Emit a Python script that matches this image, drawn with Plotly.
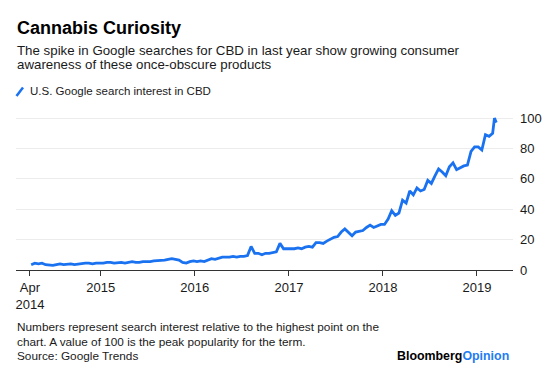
import plotly.graph_objects as go
import pandas as pd

# ---- data (bi-weekly readings of Google search interest in "CBD", U.S.) ----
start_date = "2014-04-06"
values_2014 = [3.5, 4.5, 4, 4.5, 3.5, 3, 3, 3.5, 4, 3.5, 4, 4, 3.5, 4, 4, 4.5, 4.5, 4, 4.5, 4.5]
values_2015 = [4.5, 5, 5, 4.5, 5, 5, 4.5, 5, 5.5, 5, 5, 5.5, 5.5, 5.5, 6, 6, 6, 6.5, 7, 7.5,
               7, 6.5, 5, 4.5, 5.5, 6]
values_2016 = [5.5, 6, 5.5, 6.5, 7.5, 7, 8, 8.5, 8.5, 8.5, 9, 8.5, 9, 9, 9.5, 15.5, 11, 11, 10,
               11, 11, 11.5, 12, 17.5, 14, 14]
values_2017 = [14, 14, 14.5, 14, 15, 15.5, 15, 18, 18, 17.5, 19, 20.5, 21.5, 22, 25, 27, 24.5,
               22.5, 25, 25.5, 26, 28, 29.5, 28, 29, 30]
values_2018 = [30, 33.5, 39, 36, 37.5, 46, 44, 52, 49.5, 54, 52, 53, 59, 57, 62, 66.5, 64.5, 62,
               68, 70.5, 66, 67.5, 68.5, 69, 78, 81]
values_2019 = [81, 79, 89, 88, 90]
final_dates = ["2019-03-10", "2019-03-17"]
final_values = [100, 97]

tick_dates = ["2014-04-01", "2015-01-01", "2016-01-01", "2017-01-01", "2018-01-01", "2019-01-01"]
tick_labels = ["Apr<br>2014", "2015", "2016", "2017", "2018", "2019"]
y_ticks = [0, 20, 40, 60, 80, 100]

biweekly = values_2014 + values_2015 + values_2016 + values_2017 + values_2018 + values_2019
dates = list(pd.date_range(start_date, periods=len(biweekly), freq="14D")) + list(pd.to_datetime(final_dates))
interest = biweekly + final_values

BLUE = "#1a72f0"
FONT = "Liberation Sans, Arial, sans-serif"

# plot-area geometry (pixels) for placing surrounding text
L, R, T, B = 16, 513, 112, 270
def px(x):
    return (x - L) / (R - L)
def py(y):
    return (B - y) / (B - T)

fig = go.Figure()
fig.add_trace(go.Scatter(x=dates, y=interest, mode="lines",
                         line=dict(color=BLUE, width=2.8), hoverinfo="skip"))

fig.update_layout(
    width=560, height=370,
    margin=dict(l=L, r=560 - R, t=T, b=370 - B, autoexpand=False),
    paper_bgcolor="white", plot_bgcolor="white",
    showlegend=False,
    font=dict(family=FONT, color="#1a1a1a"),
    xaxis=dict(type="date", range=["2014-02-06", "2019-05-21"],
               tickvals=tick_dates, ticktext=tick_labels,
               ticks="outside", ticklen=5, tickcolor="#333", tickwidth=1,
               showline=True, linecolor="#333", linewidth=1,
               showgrid=False, zeroline=False, automargin=False,
               tickfont=dict(size=13, color="#1a1a1a")),
    yaxis=dict(side="right", range=[0, 104], tickvals=y_ticks,
               showgrid=True, gridcolor="#ececec", gridwidth=1,
               zeroline=False, showline=False, ticks="", automargin=False,
               ticklabelstandoff=6,
               tickfont=dict(size=13, color="#1a1a1a")),
)

ann = []
ann.append(dict(text="<b>Cannabis Curiosity</b>", x=px(15), y=py(27.5), xanchor="left", yanchor="middle",
                font=dict(size=18, color="#000")))
ann.append(dict(text="The spike in Google searches for CBD in last year show growing consumer",
                x=px(15), y=py(50.5), xanchor="left", yanchor="middle", font=dict(size=13.3, color="#1a1a1a")))
ann.append(dict(text="awareness of these once-obscure products",
                x=px(15), y=py(64.5), xanchor="left", yanchor="middle", font=dict(size=13.3, color="#1a1a1a")))
ann.append(dict(text="U.S. Google search interest in CBD",
                x=px(28), y=py(91), xanchor="left", yanchor="middle", font=dict(size=11.5, color="#1a1a1a")))
ann.append(dict(text="Numbers represent search interest relative to the highest point on the",
                x=px(15), y=py(327), xanchor="left", yanchor="middle", font=dict(size=11.8, color="#1a1a1a")))
ann.append(dict(text="chart. A value of 100 is the peak popularity for the term.",
                x=px(15), y=py(341.5), xanchor="left", yanchor="middle", font=dict(size=11.8, color="#1a1a1a")))
ann.append(dict(text="Source: Google Trends",
                x=px(15), y=py(356), xanchor="left", yanchor="middle", font=dict(size=11.8, color="#1a1a1a")))
ann.append(dict(text="<b>Bloomberg<span style='color:#1f7cf2'>Opinion</span></b>",
                x=px(511), y=py(355.5), xanchor="right", yanchor="middle", font=dict(size=12.4, color="#000")))
for a in ann:
    a.update(xref="paper", yref="paper", showarrow=False)
fig.update_layout(annotations=ann)

fig.add_shape(type="line", xref="paper", yref="paper",
              x0=px(16.5), y0=py(96), x1=px(23), y1=py(87.5),
              line=dict(color=BLUE, width=2.5))

fig.write_html("out.html",
               config={"displayModeBar": False, "staticPlot": True},
               post_script="document.body.style.margin='0';document.body.style.overflow='hidden';")
